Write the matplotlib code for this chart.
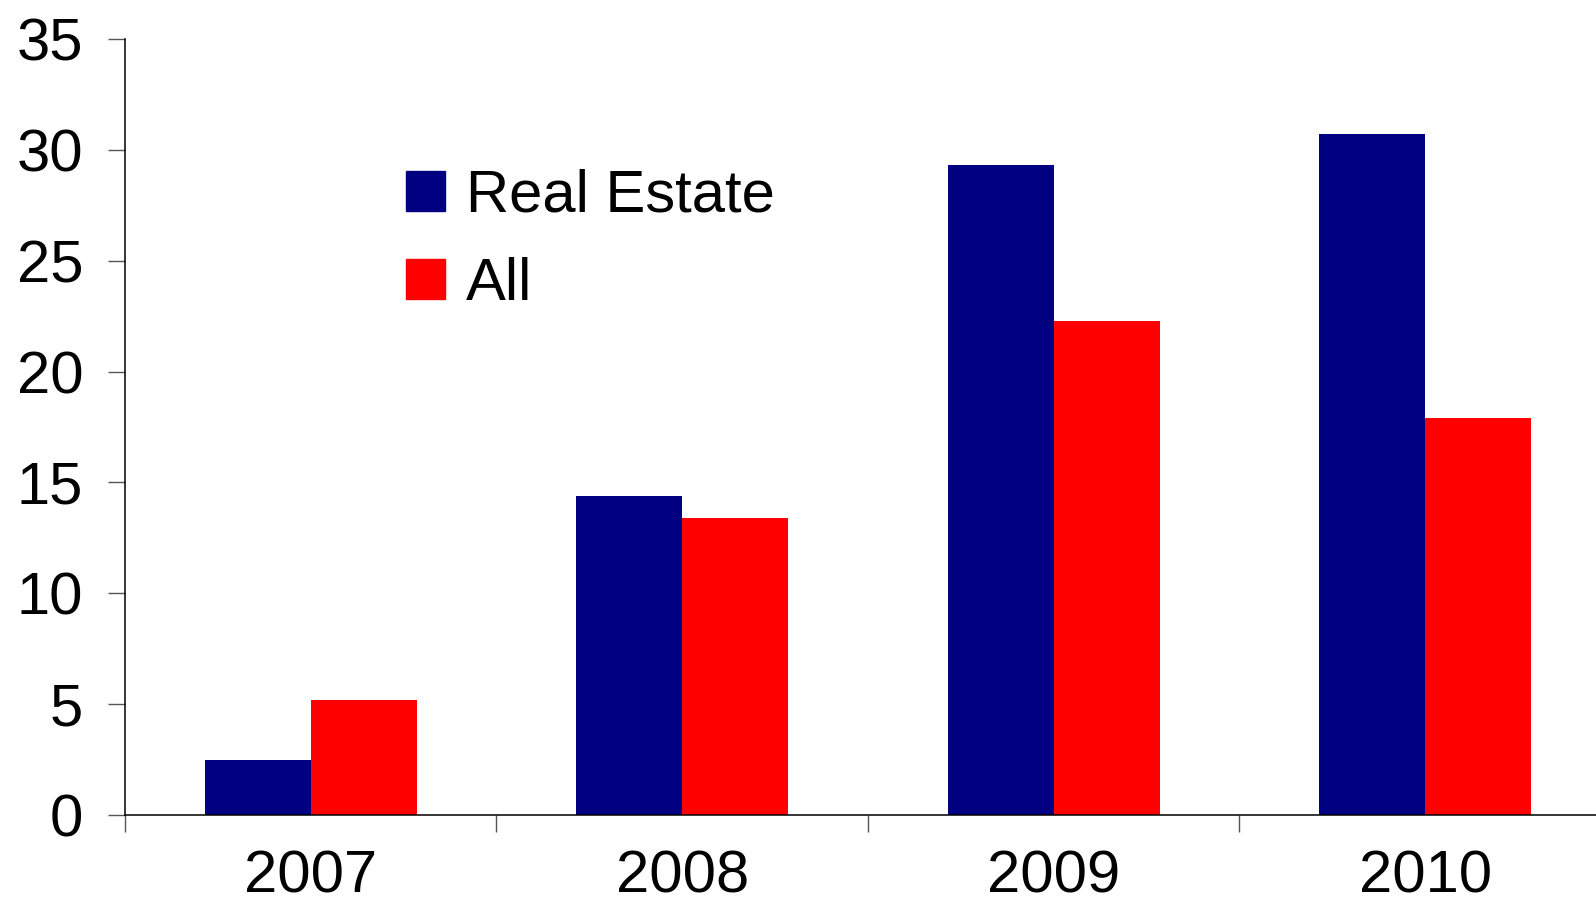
import matplotlib.pyplot as plt
import numpy as np
from matplotlib.patches import Patch

plt.rcParams["font.family"] = ["Liberation Sans", "DejaVu Sans"]

# data
years = ["2007", "2008", "2009", "2010"]
real_estate = [2.5, 14.4, 29.3, 30.7]
all_loans = [5.2, 13.4, 22.3, 17.9]
y_ticks = [0, 5, 10, 15, 20, 25, 30, 35]

navy = "#000080"
red = "#FF0000"
fs = 43

fig = plt.figure(figsize=(15.96, 9.09), dpi=100)
ax = fig.add_axes([125 / 1596, 94 / 909, 1 - 125 / 1596, 776 / 909])

x = np.arange(len(years))
w = 0.285
ax.bar(x - w / 2, real_estate, w, color=navy, label="Real Estate")
ax.bar(x + w / 2, all_loans, w, color=red, label="All")

ax.set_xlim(-0.5, 3.46)
ax.set_ylim(0, 35)
ax.set_yticks(y_ticks)
ax.set_yticklabels([str(t) for t in y_ticks])

# year labels centred, tick marks between categories
ax.set_xticks(x)
ax.set_xticklabels(years)
ax.set_xticks(np.arange(-0.5, 3.5, 1.0), minor=True)
ax.tick_params(axis="x", which="major", length=0, labelsize=fs, pad=25)
ax.tick_params(axis="x", which="minor", length=12, width=1, color="#555555",
               direction="out")
ax.tick_params(axis="y", length=12, width=1, color="#555555", labelsize=fs,
               pad=18)

for side in ["top", "right"]:
    ax.spines[side].set_visible(False)
for side in ["left", "bottom"]:
    ax.spines[side].set_linewidth(1.1)
    ax.spines[side].set_color("black")

handles = [Patch(color=navy, label="Real Estate"), Patch(color=red, label="All")]
ax.legend(handles=handles, loc="upper left", bbox_to_anchor=(406 / 1596, 1 - 169 / 909),
          bbox_transform=fig.transFigure, frameon=False, fontsize=fs,
          handlelength=0.66, handleheight=0.66, handletextpad=0.35,
          labelspacing=0.55, borderpad=0, borderaxespad=0)

fig.savefig("out.png", dpi=100)
